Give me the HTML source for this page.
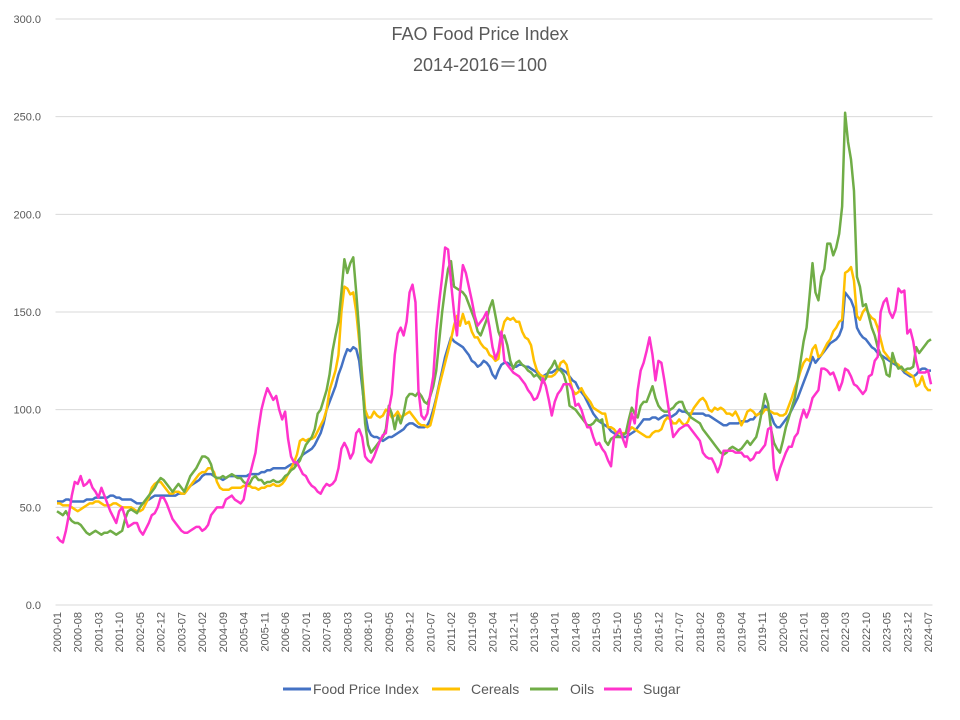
<!DOCTYPE html>
<html><head><meta charset="utf-8"><title>FAO Food Price Index</title>
<style>
html,body{margin:0;padding:0;background:#fff;}
svg{display:block;font-family:"Liberation Sans","Noto Sans CJK JP",sans-serif;}
</style></head>
<body>
<svg id="chart" width="960" height="720" viewBox="0 0 960 720" xmlns="http://www.w3.org/2000/svg">
<rect width="960" height="720" fill="#fff"/>
<text x="480" y="40" text-anchor="middle" font-size="18" fill="#595959">FAO Food Price Index</text>
<text x="480" y="71" text-anchor="middle" font-size="18" fill="#595959">2014-2016＝100</text>
<g id="grid"></g>
<g id="yaxis"></g>
<g id="xaxis"></g>
<g id="series"></g>
<g id="legend">
  <g><line x1="283" y1="689" x2="311" y2="689" stroke="#4472C4" stroke-width="3"/><text x="313" y="694" font-size="14" fill="#595959">Food Price Index</text></g>
  <g><line x1="432" y1="689" x2="460" y2="689" stroke="#FFC000" stroke-width="3"/><text x="471" y="694" font-size="14" fill="#595959">Cereals</text></g>
  <g><line x1="530" y1="689" x2="558" y2="689" stroke="#70AD47" stroke-width="3"/><text x="570" y="694" font-size="14" fill="#595959">Oils</text></g>
  <g><line x1="604" y1="689" x2="632" y2="689" stroke="#FF33CC" stroke-width="3"/><text x="643" y="694" font-size="14" fill="#595959">Sugar</text></g>
</g>
</svg>
<script>
const yTicks = [0,50,100,150,200,250,300];
const startYear = 2000;
const food = [
53,53,53,54,54,53,53,53,53,53,54,54,
54,55,55,55,55,55,56,56,55,55,54,54,
54,54,53,52,52,52,53,54,55,56,56,56,
56,56,56,56,56,57,57,57,59,61,62,63,
64,66,67,67,67,66,65,65,64,65,66,66,
66,66,66,66,66,67,67,67,67,68,68,69,
69,70,70,70,70,70,71,72,72,73,75,77,
78,79,80,82,85,88,93,100,104,108,112,118,
122,127,131,130,132,131,125,112,98,90,87,86,
86,85,84,85,86,86,87,88,89,90,92,93,
93,92,91,91,91,92,95,100,106,113,120,127,
132,137,135,134,133,132,130,128,125,124,122,123,
125,124,122,118,116,120,123,124,124,123,122,122,
123,123,122,122,121,120,119,117,117,118,119,119,
120,121,121,120,119,117,115,114,111,109,107,104,
101,98,96,94,93,92,91,89,88,87,86,86,
86,87,88,89,91,93,95,95,95,96,96,95,
96,97,97,96,97,98,100,99,99,98,98,98,
98,98,98,97,97,96,95,94,93,92,92,93,
93,93,93,94,94,94,95,95,97,98,100,102,
100,97,93,91,91,93,95,97,100,103,106,110,
114,118,122,127,124,126,128,130,132,134,135,136,
138,142,160,158,156,152,142,139,137,136,134,132,
131,129,128,127,126,125,124,123,122,121,119,118,
117,117,118,120,121,121,120,120];
const cereals = [
52,52,51,51,51,50,49,48,49,50,51,52,
52,53,53,52,51,51,51,52,52,51,50,50,
50,50,49,48,48,49,52,55,60,62,63,63,
61,59,57,57,58,58,57,57,59,61,63,65,
67,68,68,70,70,68,63,60,59,59,59,60,
60,60,60,61,61,61,60,60,59,60,60,61,
61,62,61,61,62,64,67,70,73,77,84,85,
84,85,85,86,89,92,95,100,110,115,120,128,
150,163,162,159,160,150,135,118,100,96,96,99,
97,96,97,100,99,96,97,99,96,97,98,99,
97,95,93,92,92,91,92,98,105,112,118,124,
130,136,143,148,143,149,144,145,140,137,137,134,
132,131,128,127,125,126,139,145,147,146,147,145,
145,140,137,136,133,125,120,118,117,117,117,117,
118,120,124,125,123,116,110,108,109,111,108,106,
104,101,100,99,98,98,91,91,90,88,88,88,
88,89,91,90,89,88,87,86,86,88,89,89,
90,94,96,95,93,93,95,93,92,94,98,101,
103,105,106,104,100,99,101,100,101,100,98,98,
97,99,96,92,95,99,100,99,97,98,98,100,
100,99,98,98,97,97,98,102,106,111,115,120,
124,126,125,131,133,127,128,131,134,136,140,142,
145,146,170,171,173,166,148,146,150,152,149,147,
146,142,136,130,128,126,125,124,123,121,120,119,
118,117,112,113,117,112,110,110];
const oils = [
48,47,46,48,45,43,42,42,41,39,37,36,
37,38,37,36,37,37,38,37,36,37,38,44,
48,49,48,47,50,52,54,56,58,60,63,65,
64,62,60,58,60,62,60,58,62,66,68,70,
73,76,76,75,72,66,65,65,66,65,66,67,
66,65,65,63,62,62,65,66,64,64,62,63,
63,64,63,63,64,66,67,69,70,72,74,78,
82,84,86,90,98,100,105,110,118,130,138,145,
160,177,170,175,178,160,140,115,93,82,78,80,
82,84,86,90,102,98,90,97,93,98,106,108,
108,107,109,107,104,103,107,112,120,135,150,162,
172,176,163,162,161,160,158,154,150,146,140,138,
142,146,152,156,148,140,136,138,133,125,121,124,
125,123,122,120,119,117,118,116,114,116,120,122,
125,121,120,118,113,102,101,100,98,96,94,92,
92,93,95,94,95,84,82,85,86,86,86,87,
88,95,101,98,96,102,104,104,108,112,106,102,
100,99,99,100,101,103,104,104,100,98,96,95,
94,93,90,88,86,84,82,80,78,77,78,80,
81,80,79,80,82,84,82,84,86,92,100,108,
103,90,83,80,78,84,91,96,101,106,115,125,
135,142,158,175,160,156,168,172,185,185,179,183,
190,204,252,237,228,212,168,163,153,154,148,142,
138,132,128,125,118,117,129,124,121,122,120,121,
121,122,132,129,131,133,135,136];
const sugar = [
35,33,32,38,46,56,63,62,66,61,62,64,
60,58,55,60,56,52,48,45,42,48,50,45,
40,41,42,42,38,36,39,42,46,47,50,55,
55,52,48,44,42,40,38,37,37,38,39,40,
40,38,39,41,46,48,50,50,50,54,55,56,
54,53,52,54,62,66,72,78,90,100,106,111,
108,105,107,100,95,99,85,76,73,73,70,67,
66,63,61,60,58,57,60,62,61,62,64,70,
80,83,80,75,78,88,90,86,76,74,73,76,
80,84,87,88,100,108,128,139,142,138,145,160,
164,155,110,97,95,98,108,117,140,155,168,183,
182,165,150,138,160,174,170,163,156,148,143,145,
147,150,142,132,126,130,140,125,123,121,119,118,
117,115,113,110,108,105,106,110,116,112,105,97,
104,108,110,113,113,113,110,102,103,100,95,91,
91,86,82,83,80,78,74,71,86,88,90,85,
81,90,98,93,110,120,124,130,137,128,115,125,
124,115,105,95,86,88,90,91,92,92,90,88,
86,84,78,76,75,75,72,68,72,79,79,79,
79,78,78,78,76,76,74,75,78,78,80,82,
90,91,70,64,70,74,78,81,81,86,88,95,
100,96,100,106,108,110,121,121,120,118,119,115,
110,114,121,120,117,113,112,110,108,110,117,118,
125,127,150,155,157,150,147,151,162,160,161,139,
141,135,125,119,119,119,120,113];

const seriesList = [
  {name:'food', data:food, color:'#4472C4'},
  {name:'cereals', data:cereals, color:'#FFC000'},
  {name:'oils', data:oils, color:'#70AD47'},
  {name:'sugar', data:sugar, color:'#FF33CC'}
];

const NS = 'http://www.w3.org/2000/svg';
const plotL = 55.5, plotR = 932.5, plotT = 19, plotB = 605;
const yMax = 300;
const N = food.length;
const step = (plotR - plotL) / N;
function xScale(i){ return plotL + step * (i + 0.5); }
function yScale(v){ return plotB - (v / yMax) * (plotB - plotT); }

const grid = document.getElementById('grid');
const yaxis = document.getElementById('yaxis');
yTicks.forEach(t => {
  const l = document.createElementNS(NS,'line');
  
  
  l.setAttribute('x1', plotL); l.setAttribute('x2', plotR);
  l.setAttribute('y1', yScale(t)); l.setAttribute('y2', yScale(t));
  l.setAttribute('stroke', '#d9d9d9'); l.setAttribute('stroke-width', '1');
  grid.appendChild(l);
  const tx = document.createElementNS(NS,'text');
  
  
  tx.setAttribute('x', 41); tx.setAttribute('y', yScale(t) + 4);
  tx.setAttribute('text-anchor', 'end'); tx.setAttribute('font-size', '11');
  tx.setAttribute('fill', '#595959');
  tx.textContent = t.toFixed(1);
  yaxis.appendChild(tx);
});

const xaxis = document.getElementById('xaxis');
for (let i = 0; i < N; i += 7) {
  const y = startYear + Math.floor(i / 12), m = (i % 12) + 1;
  const label = y + '-' + (m < 10 ? '0' + m : m);
  const tx = document.createElementNS(NS,'text');
  
  
  const x = xScale(i) + 4;
  tx.setAttribute('x', x); tx.setAttribute('y', 612);
  tx.setAttribute('transform', 'rotate(-90 ' + x + ' 612)');
  tx.setAttribute('text-anchor', 'end'); tx.setAttribute('font-size', '11');
  tx.setAttribute('fill', '#595959');
  tx.textContent = label;
  xaxis.appendChild(tx);
}

const sg = document.getElementById('series');
seriesList.forEach(s => {
  const pts = s.data.map((v, i) => xScale(i).toFixed(2) + ',' + yScale(v).toFixed(2)).join(' ');
  const pl = document.createElementNS(NS,'polyline');
  
  
  pl.setAttribute('points', pts);
  pl.setAttribute('fill', 'none');
  pl.setAttribute('stroke', s.color);
  pl.setAttribute('stroke-width', '2.5');
  pl.setAttribute('stroke-linejoin', 'round');
  sg.appendChild(pl);
});
</script>
</body></html>
